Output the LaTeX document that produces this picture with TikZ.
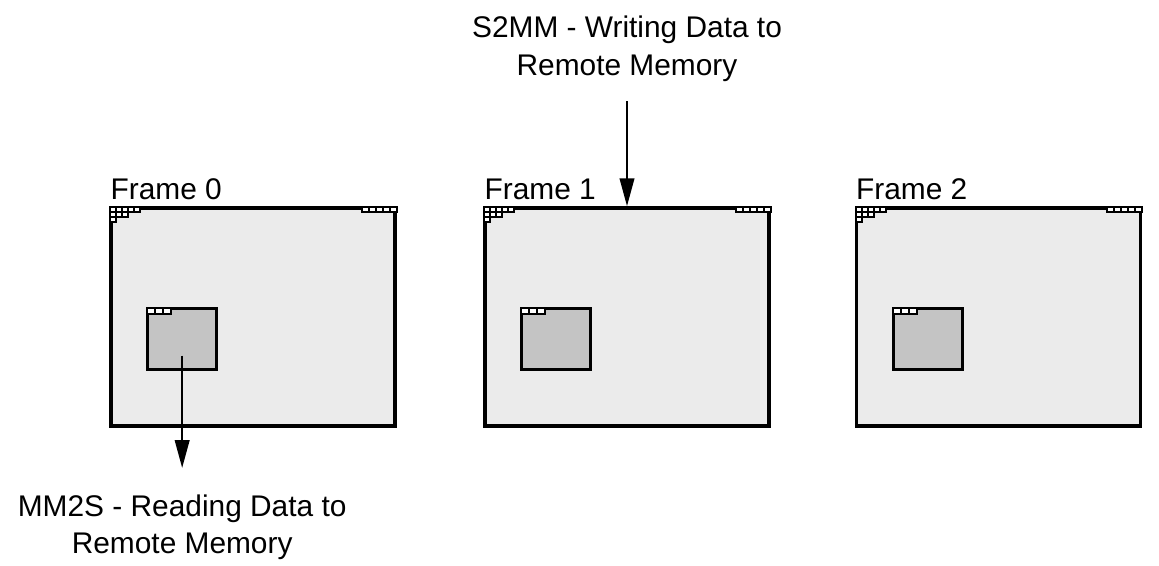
\documentclass[tikz,border=0pt]{standalone}
\usepackage{fontspec}
\setmainfont{Liberation Sans}
\usetikzlibrary{arrows.meta,positioning,calc}
\definecolor{clrFrame}{RGB}{235,235,235}
\definecolor{clrWin}{RGB}{196,196,196}
\tikzset{
  frame/.style={rectangle,draw=black,fill=clrFrame,line width=2pt,
    minimum width=5.68cm,minimum height=4.36cm,inner sep=0pt},
  window/.style={rectangle,draw=black,fill=clrWin,line width=1.6pt,
    minimum width=1.38cm,minimum height=1.22cm,inner sep=0pt},
  cell/.style={draw=black,fill=white,line width=1.1pt},
  frametitle/.style={font=\fontsize{17}{21.5}\selectfont,inner sep=0pt},
  caption/.style={font=\fontsize{17}{21.5}\selectfont,align=center,inner sep=0pt},
  arrow/.style={-{Triangle[length=0.56cm,width=0.29cm]},line width=1.4pt}
}

\begin{document}
\begin{tikzpicture}[x=0.02cm,y=0.02cm]
  \useasboundingbox (0,0) rectangle (1159,565);
  % the three frames in memory
  \node[frame] (f0) at (253,248) {};
  \node[frame] (f1) at (627,248) {};
  \node[frame] (f2) at (998.5,248) {};
  \node[frametitle,above right=0.12cm and 0.02cm of f0.north west] (t0) {Frame 0};
  \node[frametitle,above right=0.12cm and 0.02cm of f1.north west] (t1) {Frame 1};
  \node[frametitle,above right=0.12cm and 0.02cm of f2.north west] (t2) {Frame 2};
  % windows inside the frames
  \node[window,below right=2.02cm and 0.74cm of f0.north west] (w0) {};
  \node[window,below right=2.02cm and 0.74cm of f1.north west] (w1) {};
  \node[window,below right=2.02cm and 0.74cm of f2.north west] (w2) {};
  % pixel cells in the corners
  \foreach \f in {0,1,2} {
    \foreach \r/\n in {0/5,1/3,2/1}
      \foreach \c in {1,...,\n}
        \draw[cell] ($(f\f.north west)+(\c*6-5,-\r*5-1)$) rectangle +(6,-5);
    \foreach \c in {1,...,5}
      \draw[cell] ($(f\f.north east)+(-\c*7,-1)$) rectangle +(7,-5);
    \foreach \c in {1,2,3}
      \draw[cell] ($(w\f.north west)+(\c*8-7,-1)$) rectangle +(8,-6);
  }
  % transfers
  \node[caption,above=2.48cm of f1.north] (s2mm) {S2MM - Writing Data to\\Remote Memory};
  \node[caption,below=2.46cm of w0] (mm2s) {MM2S - Reading Data to\\Remote Memory};
  \draw[arrow,shorten <=0.38cm] (s2mm) -- (f1);
  \draw[arrow,shorten <=0.33cm,shorten >=0.52cm] (w0.center) -- (mm2s.north);
\end{tikzpicture}
\end{document}
